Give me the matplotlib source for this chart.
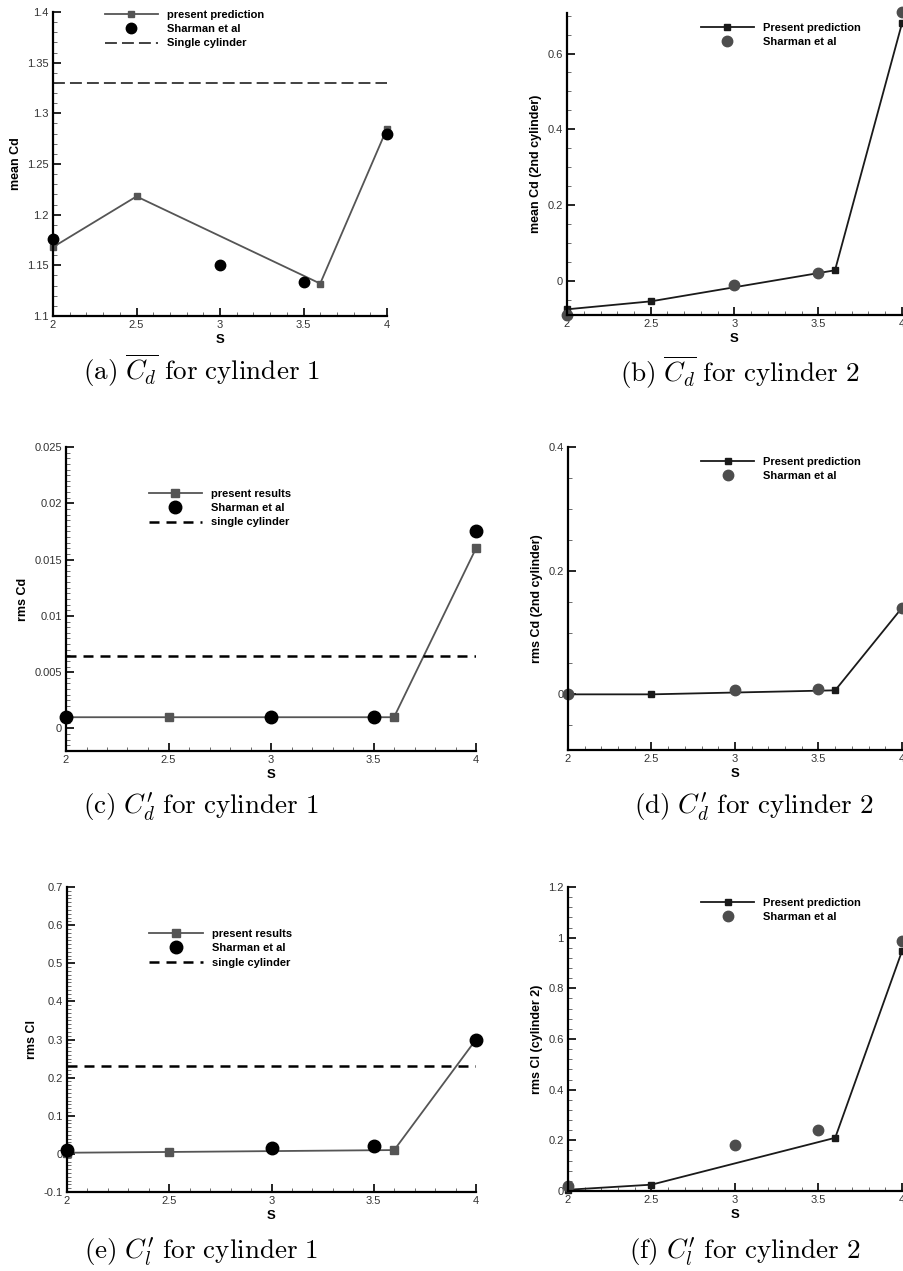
import matplotlib
matplotlib.use("Agg")
import matplotlib.pyplot as plt
from matplotlib.ticker import MultipleLocator, AutoMinorLocator, FuncFormatter

plt.rcParams["font.family"] = ["Liberation Sans", "DejaVu Sans"]
plt.rcParams["mathtext.fontset"] = "cm"

# spacing ratio S
S_present = [2.0, 2.5, 3.6, 4.0]
S_sharman = [2.0, 3.0, 3.5, 4.0]

# (a) mean Cd cylinder 1
cd1_present = [1.168, 1.218, 1.132, 1.285]
cd1_sharman = [1.176, 1.150, 1.134, 1.280]
cd1_single = 1.33

# (b) mean Cd cylinder 2
cd2_present = [-0.075, -0.054, 0.028, 0.680]
cd2_sharman = [-0.090, -0.012, 0.020, 0.710]

# (c) rms Cd cylinder 1
cdr1_present = [0.001, 0.001, 0.001, 0.016]
cdr1_sharman = [0.001, 0.001, 0.001, 0.0175]
cdr1_single = 0.0064

# (d) rms Cd cylinder 2
cdr2_present = [0.0, 0.0, 0.0065, 0.140]
cdr2_sharman = [0.0, 0.007, 0.009, 0.140]

# (e) rms Cl cylinder 1
clr1_present = [0.003, 0.005, 0.010, 0.300]
clr1_sharman = [0.010, 0.015, 0.020, 0.300]
clr1_single = 0.23

# (f) rms Cl cylinder 2
clr2_present = [0.005, 0.025, 0.210, 0.947]
clr2_sharman = [0.020, 0.180, 0.240, 0.987]

W, H = 904, 1271
fig = plt.figure(figsize=(W / 100, H / 100), dpi=100)


def px_axes(left, right, top, bottom):
    return fig.add_axes([left / W, 1 - bottom / H, (right - left) / W, (bottom - top) / H])


def style(ax, ylim, major, minor_n, ylabel):
    ax.set_xlim(2, 4)
    ax.set_ylim(*ylim)
    ax.xaxis.set_major_locator(MultipleLocator(0.5))
    ax.xaxis.set_minor_locator(AutoMinorLocator(5))
    ax.yaxis.set_major_locator(MultipleLocator(major))
    ax.yaxis.set_minor_locator(AutoMinorLocator(minor_n))
    fmt = FuncFormatter(lambda v, p: "%g" % round(v, 6))
    ax.xaxis.set_major_formatter(fmt)
    ax.yaxis.set_major_formatter(fmt)
    for s in ["top", "right"]:
        ax.spines[s].set_visible(False)
    for s in ["left", "bottom"]:
        ax.spines[s].set_linewidth(1.6)
    ax.tick_params(which="major", direction="in", length=6, width=1.2,
                   labelsize=8, labelcolor="#333333", pad=3)
    ax.tick_params(which="minor", direction="in", length=3, width=0.6, color="#555555")
    ax.set_xlabel("S", fontweight="bold", fontsize=9.5, labelpad=3)
    ax.set_ylabel(ylabel, fontweight="bold", fontsize=9)


def legend(ax, x, y):
    ax.legend(loc="upper left", bbox_to_anchor=(x, y), frameon=False,
              prop={"weight": "bold", "size": 8}, handlelength=4.8,
              handletextpad=0.8, labelspacing=0.38, borderpad=0)


# (a)
ax = px_axes(53, 387, 12, 316)
ax.plot(S_present, cd1_present, "-s", color="#555555", lw=1.3, ms=5,
        label="present prediction", clip_on=False)
ax.plot(S_sharman, cd1_sharman, "o", color="black", ms=7.5,
        label="Sharman et al", clip_on=False)
ax.axhline(cd1_single, color="#333333", lw=1.3, ls=(0, (6.6, 2.8)),
           label="Single cylinder")
style(ax, (1.1, 1.4), 0.05, 5, "mean Cd")
legend(ax, 0.138, 1.025)

# (b)
ax = px_axes(567, 902, 13, 315)
ax.plot(S_present, cd2_present, "-s", color="#1a1a1a", lw=1.3, ms=5,
        label="Present prediction", clip_on=False)
ax.plot(S_sharman, cd2_sharman, "o", color="#4d4d4d", ms=7.5,
        label="Sharman et al", clip_on=False)
style(ax, (-0.09, 0.707), 0.2, 4, "mean Cd (2nd cylinder)")
legend(ax, 0.382, 0.985)

# (c)
ax = px_axes(66, 476, 447, 751)
ax.plot(S_present, cdr1_present, "-s", color="#555555", lw=1.3, ms=6,
        label="present results", clip_on=False)
ax.plot(S_sharman, cdr1_sharman, "o", color="black", ms=9,
        label="Sharman et al", clip_on=False)
ax.axhline(cdr1_single, color="black", lw=1.8, ls=(0, (4, 2.8)),
           label="single cylinder")
style(ax, (-0.002, 0.025), 0.005, 10, "rms Cd")
legend(ax, 0.188, 0.88)

# (d)
ax = px_axes(568, 902, 447, 750)
ax.plot(S_present, cdr2_present, "-s", color="#1a1a1a", lw=1.3, ms=5,
        label="Present prediction", clip_on=False)
ax.plot(S_sharman, cdr2_sharman, "o", color="#4d4d4d", ms=7.5,
        label="Sharman et al", clip_on=False)
style(ax, (-0.09, 0.4), 0.2, 4, "rms Cd (2nd cylinder)")
legend(ax, 0.382, 0.985)

# (e)
ax = px_axes(67, 476, 887, 1192)
ax.plot(S_present, clr1_present, "-s", color="#555555", lw=1.3, ms=6,
        label="present results", clip_on=False)
ax.plot(S_sharman, clr1_sharman, "o", color="black", ms=9,
        label="Sharman et al", clip_on=False)
ax.axhline(clr1_single, color="black", lw=1.8, ls=(0, (4, 2.8)),
           label="single cylinder")
style(ax, (-0.1, 0.7), 0.1, 10, "rms Cl")
legend(ax, 0.188, 0.88)

# (f)
ax = px_axes(568, 902, 887, 1191)
ax.plot(S_present, clr2_present, "-s", color="#1a1a1a", lw=1.3, ms=5,
        label="Present prediction", clip_on=False)
ax.plot(S_sharman, clr2_sharman, "o", color="#4d4d4d", ms=7.5,
        label="Sharman et al", clip_on=False)
style(ax, (0, 1.2), 0.2, 5, "rms Cl (cylinder 2)")
legend(ax, 0.382, 0.983)

captions = [
    (201, 370, r"$\mathrm{(a)\ }\overline{C_d}\mathrm{\ for\ cylinder\ 1}$"),
    (740, 372, r"$\mathrm{(b)\ }\overline{C_d}\mathrm{\ for\ cylinder\ 2}$"),
    (201, 807, r"$\mathrm{(c)\ }C_d^{\prime}\mathrm{\ for\ cylinder\ 1}$"),
    (754, 807, r"$\mathrm{(d)\ }C_d^{\prime}\mathrm{\ for\ cylinder\ 2}$"),
    (201, 1252, r"$\mathrm{(e)\ }C_l^{\prime}\mathrm{\ for\ cylinder\ 1}$"),
    (745, 1252, r"$\mathrm{(f)\ }C_l^{\prime}\mathrm{\ for\ cylinder\ 2}$"),
]
for x, y, t in captions:
    fig.text(x / W, 1 - y / H, t, ha="center", va="center", fontsize=19.5)

fig.savefig("out.png", dpi=100)
